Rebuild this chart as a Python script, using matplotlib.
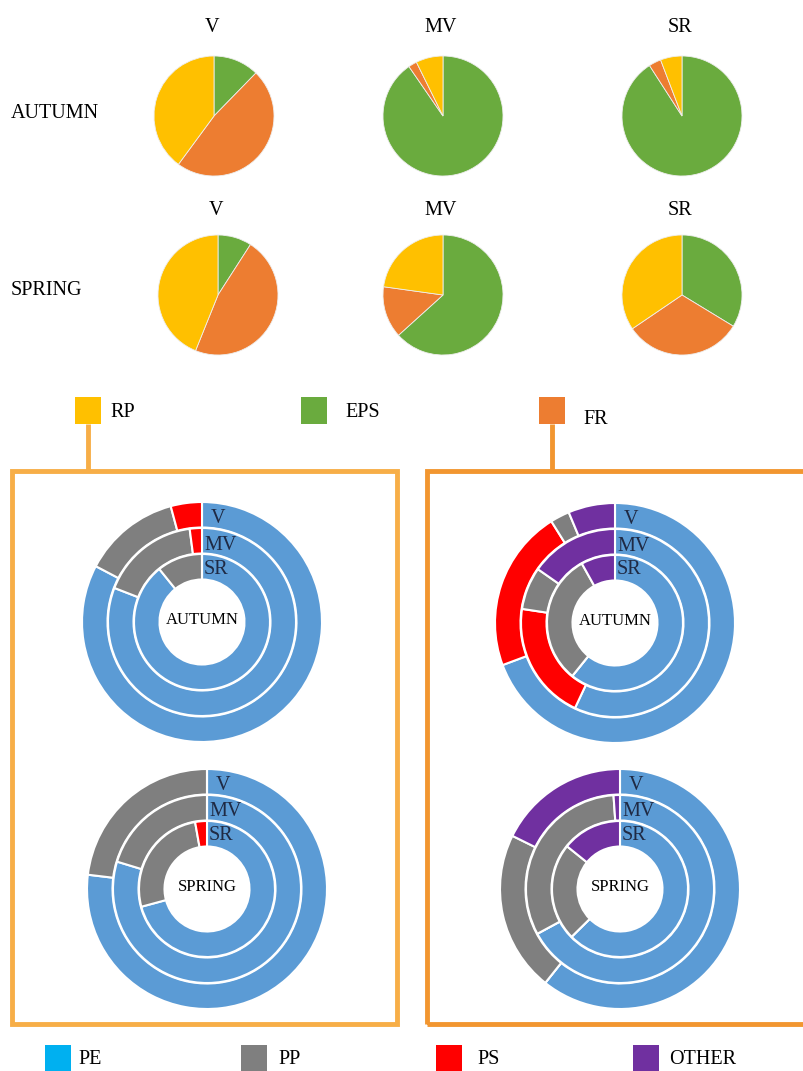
import matplotlib.pyplot as plt
from matplotlib.patches import Rectangle

W, H = 804, 1071
SERIF = "Liberation Serif"

# top pies: share of each fraction, clockwise from 12 o'clock (EPS, FR, RP)
sites = ["V", "MV", "SR"]
seasons = ["AUTUMN", "SPRING"]
fractions = ["EPS", "FR", "RP"]
eps_autumn = [12.3, 90.4, 90.9]
fr_autumn = [47.8, 2.3, 3.3]
rp_autumn = [39.9, 7.3, 5.8]
eps_spring = [9.1, 63.3, 33.7]
fr_spring = [47.0, 13.9, 31.8]
rp_spring = [43.9, 22.8, 34.5]

# donuts: polymer composition per ring (V outer, MV middle, SR inner)
rp_order = ["PE", "PP", "PS"]
rp_autumn_ring = {"V": [82.7, 13.1, 4.2], "MV": [80.9, 17.0, 2.1], "SR": [89.2, 10.8, 0.0]}
rp_spring_ring = {"V": [76.9, 23.1, 0.0], "MV": [79.7, 20.3, 0.0], "SR": [70.8, 26.4, 2.8]}
fr_order = ["PE", "PS", "PP", "OTHER"]
fr_autumn_ring = {"V": [69.3, 21.8, 2.6, 6.3], "MV": [57.0, 20.4, 7.3, 15.3], "SR": [60.8, 0.0, 31.1, 8.1]}
fr_spring_ring = {"V": [60.7, 0.0, 21.6, 17.7], "MV": [67.1, 0.0, 31.8, 1.1], "SR": [62.6, 0.0, 23.2, 14.2]}

frac_colors = {"EPS": "#6aab3e", "FR": "#ed7d31", "RP": "#ffc000"}
poly_colors = {"PE": "#5b9bd5", "PP": "#7f7f7f", "PS": "#ff0000", "OTHER": "#7030a0"}
legend_poly_colors = {"PE": "#00b0f0", "PP": "#7f7f7f", "PS": "#ff0000", "OTHER": "#7030a0"}


def yy(y):
    # pixel row (from top) -> data y
    return H - y


fig = plt.figure(figsize=(W / 100, H / 100), dpi=100)
ax = fig.add_axes([0, 0, 1, 1])

# ---- top pies
pie_x = [[214, 443, 682], [218, 443, 682]]
pie_y = [116, 295]
title_y = [27, 210]
label_y = [113, 290]
season_data = [
    (eps_autumn, fr_autumn, rp_autumn),
    (eps_spring, fr_spring, rp_spring),
]
for r, season in enumerate(seasons):
    ax.text(11, yy(label_y[r]), season, family=SERIF, fontsize=14.5,
            ha="left", va="center")
    eps, fr, rp = season_data[r]
    for c, site in enumerate(sites):
        ax.text(pie_x[r][c] - 2, yy(title_y[r]), site, family=SERIF,
                fontsize=14.5, ha="center", va="center")
        ax.pie([eps[c], fr[c], rp[c]], center=(pie_x[r][c], yy(pie_y[r])),
               radius=60, startangle=90, counterclock=False,
               colors=[frac_colors[f] for f in fractions],
               wedgeprops=dict(edgecolor="#eeeeee", linewidth=0.6))

# ---- fraction legend squares and connectors
left_col, right_col = "#f7ae47", "#f29630"
ax.plot([88, 88], [yy(424), yy(470)], color=left_col, lw=3.5, solid_capstyle="butt")
ax.plot([552, 552], [yy(424), yy(470)], color=right_col, lw=3.5, solid_capstyle="butt")
for x0, y0, name, tx, ty in [(75, 397, "RP", 110, 412), (301, 397, "EPS", 345, 412),
                             (539, 397, "FR", 583, 419)]:
    ax.add_patch(Rectangle((x0, yy(y0 + 27)), 26, 27, color=frac_colors[name], lw=0))
    ax.text(tx, yy(ty), name, family=SERIF, fontsize=14.5, ha="left", va="center")

# ---- boxes
ax.add_patch(Rectangle((12, yy(1024)), 385, 1024 - 471, fill=False,
                       edgecolor=left_col, lw=3.5))
ax.add_patch(Rectangle((427, yy(1024)), 400, 1024 - 471, fill=False,
                       edgecolor=right_col, lw=3.5, clip_on=False))

# ---- donuts
ring_r = {"V": 120, "MV": 94, "SR": 68}
ring_w = 25.5
donuts = [
    ((202, 622), rp_autumn_ring, rp_order, "AUTUMN"),
    ((207, 889), rp_spring_ring, rp_order, "SPRING"),
    ((615, 623), fr_autumn_ring, fr_order, "AUTUMN"),
    ((620, 889), fr_spring_ring, fr_order, "SPRING"),
]
for (cx, cy), rings, order, season in donuts:
    for site in sites:
        ax.pie(rings[site], center=(cx, yy(cy)), radius=ring_r[site],
               startangle=90, counterclock=False,
               colors=[poly_colors[p] for p in order],
               wedgeprops=dict(width=ring_w, edgecolor="white", linewidth=1.5))
    for site, dy, dx in [("V", -104, 9), ("MV", -77, 2), ("SR", -53, 2)]:
        ax.text(cx + dx, yy(cy + dy), site, family=SERIF, fontsize=14.5,
                color="#1f2a44", ha="left", va="center")
    ax.text(cx, yy(cy - 2), season, family=SERIF, fontsize=12,
            ha="center", va="center")

# ---- polymer legend
for x0, name, tx in [(45, "PE", 78), (241, "PP", 278), (436, "PS", 477), (633, "OTHER", 669)]:
    ax.add_patch(Rectangle((x0, yy(1075)), 26, 30, color=legend_poly_colors[name], lw=0))
    ax.text(tx, yy(1060), name, family=SERIF, fontsize=14.5, ha="left", va="center")

ax.set_xlim(0, W)
ax.set_ylim(0, H)
ax.set_aspect("equal")
ax.axis("off")

fig.savefig("out.png", dpi=100)
